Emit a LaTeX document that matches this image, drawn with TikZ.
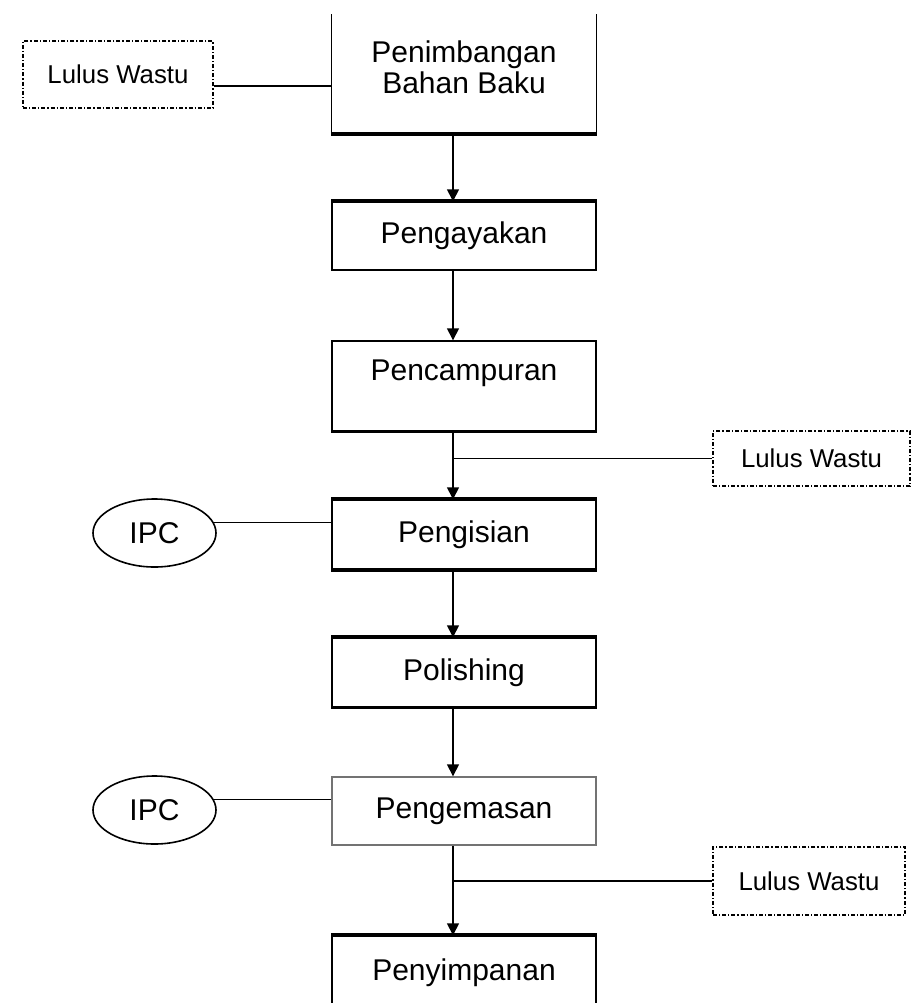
\documentclass[tikz,border=0pt]{standalone}
\usepackage{fontspec}
\setmainfont{Liberation Sans}
\usetikzlibrary{shapes.geometric,arrows.meta,calc}

\begin{document}
\begin{tikzpicture}
[x=0.5pt,y=-0.5pt,>={Triangle[length=6pt,width=6pt]},
proses/.style = {draw, line width=0.7pt, minimum width=132pt, inner sep=0pt, align=center, font=\fontsize{15}{15.5}\selectfont},
lulus/.style = {draw, line width=0.8pt, dash pattern=on 2pt off 1pt on 0.6pt off 1pt, inner sep=0pt, font=\fontsize{12.9}{14}\selectfont},
ipc/.style = {draw, ellipse, line width=0.8pt, minimum width=61.5pt, minimum height=34pt, inner sep=0pt, font=\fontsize{15}{15.5}\selectfont},
tebal/.style = {line width=2pt},
garis/.style = {line width=0.7pt},]
\useasboundingbox (0,0) rectangle (911,1003);
\coordinate (spine) at (453,0);
\node (bahan) at (464,67.5)[proses,draw=none,minimum height=65.5pt] {Penimbangan\\Bahan Baku};
\node (ayak) at (464,236)[proses,minimum height=34pt] {Pengayakan};
\node (campur) at (464,386)[proses,minimum height=45pt] {Pencampuran\\\mbox{}};
\node (isi) at (464,534.5)[proses,minimum height=34.5pt] {Pengisian};
\node (polish) at (464,672.5)[proses,minimum height=34.5pt] {Polishing};
\node (kemas) at (464,811)[proses,draw=black!55,minimum height=34pt] {Pengemasan};
\node (simpan) at (464,973)[proses,minimum height=37pt] {Penyimpanan};
\node (lulusA) at (118,74.5)[lulus,minimum width=95pt,minimum height=33.5pt] {Lulus Wastu};
\node (lulusB) at (811.5,458.5)[lulus,minimum width=98.5pt,minimum height=27.5pt] {Lulus Wastu};
\node (lulusC) at (809,881)[lulus,minimum width=96pt,minimum height=34pt] {Lulus Wastu};
\node (ipcA) at (154.5,533)[ipc] {IPC};
\node (ipcB) at (154.5,810)[ipc] {IPC};
\draw[garis] ($(bahan.north west)+(0,13)$) |- (bahan.south east) -- ($(bahan.north east)+(0,13)$);
\draw[tebal] (bahan.south west)--(bahan.south east);
\draw[tebal] (ayak.north west)--(ayak.north east);
\draw[line width=1pt] (campur.south west)--(campur.south east);
\draw[tebal] (isi.north west)--(isi.north east);
\draw[tebal] (isi.south west)--(isi.south east);
\draw[tebal] (polish.north west)--(polish.north east);
\draw[line width=1.1pt] (polish.south west)--(polish.south east);
\draw[tebal] (simpan.north west)--(simpan.north east);
\draw[->,garis] (bahan.south -| spine)--(ayak.north -| spine);
\draw[->,garis] (ayak.south -| spine)--(campur.north -| spine);
\draw[->,garis] (campur.south -| spine)--(isi.north -| spine);
\draw[->,garis] (isi.south -| spine)--(polish.north -| spine);
\draw[->,garis] (polish.south -| spine)--(kemas.north -| spine);
\draw[->,garis] (kemas.south -| spine)--(simpan.north -| spine);
\draw[line width=1pt] (lulusA.-7)--(lulusA.-7 -| bahan.west);
\draw[garis] (lulusB.west)--(lulusB.west -| spine);
\draw[garis] (lulusC.west)--(lulusC.west -| spine);
\draw[garis] (ipcA.10)--(ipcA.10 -| isi.west);
\draw[garis] (ipcB.10)--(ipcB.10 -| kemas.west);


\end{tikzpicture}
\end{document}
